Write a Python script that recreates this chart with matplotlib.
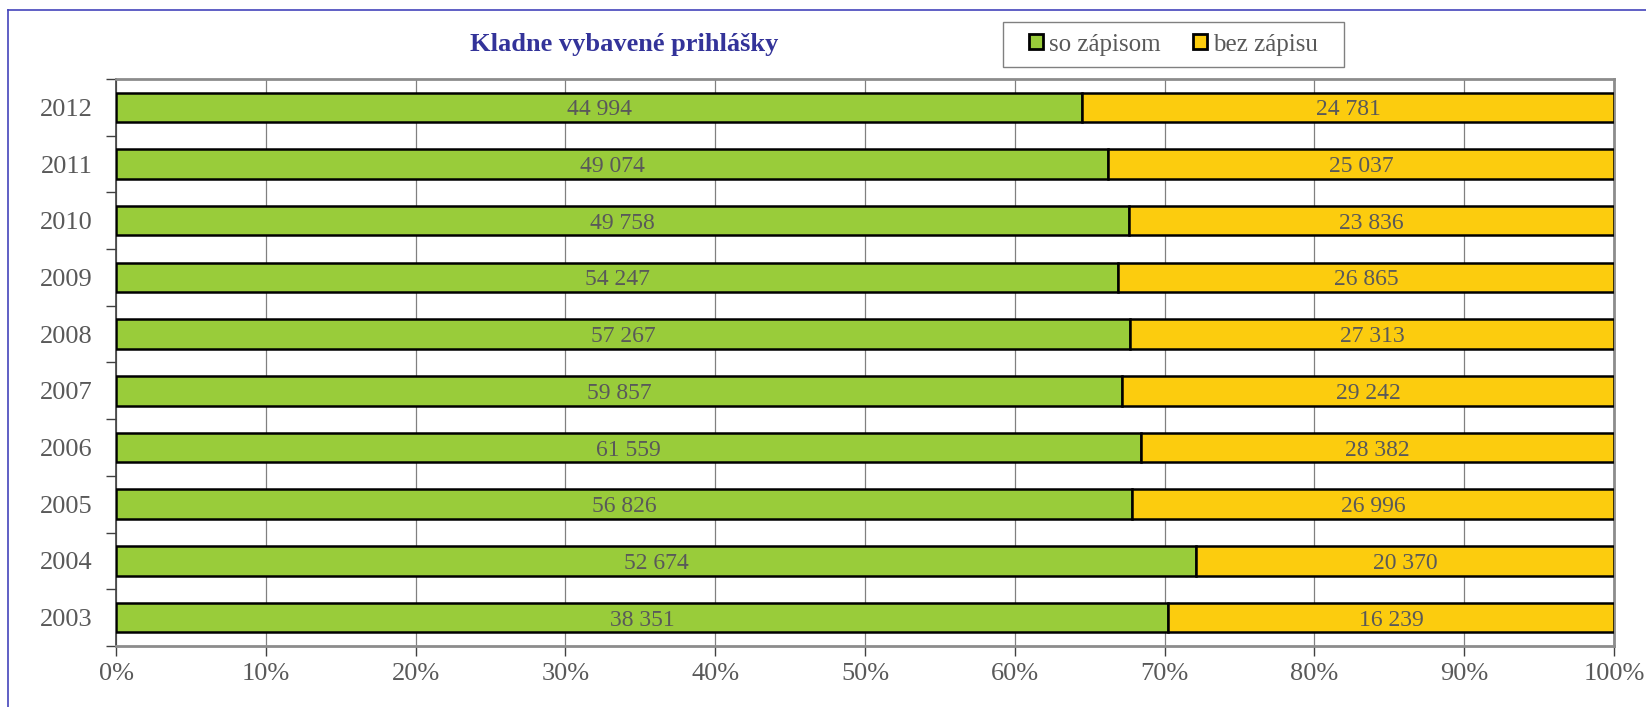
import matplotlib
matplotlib.use("Agg")
import matplotlib.pyplot as plt
from matplotlib.lines import Line2D
from matplotlib.patches import Patch, Rectangle
import numpy as np

# data (rows bottom -> top)
years = ["2003", "2004", "2005", "2006", "2007", "2008", "2009", "2010", "2011", "2012"]
so_zapisom = [38351, 52674, 56826, 61559, 59857, 57267, 54247, 49758, 49074, 44994]
bez_zapisu = [16239, 20370, 26996, 28382, 29242, 27313, 26865, 23836, 25037, 24781]
series_names = ["so zápisom", "bez zápisu"]
x_ticks = [0, 10, 20, 30, 40, 50, 60, 70, 80, 90, 100]

GREEN = "#99cc3a"
YELLOW = "#fccc0e"
TXT = "#595959"
W, H = 1646, 707

plt.rcParams["font.family"] = ["Liberation Serif", "DejaVu Serif"]


def fmt(v):
    return "{:,}".format(v).replace(",", " ")


a = np.array(so_zapisom, dtype=float)
b = np.array(bez_zapisu, dtype=float)
tot = a + b
pa = a / tot * 100
pb = b / tot * 100
y = np.arange(len(years))

fig = plt.figure(figsize=(W / 100, H / 100), dpi=100)
ax = fig.add_axes([0.0705, 0.0863, 0.9101, 0.802])

ax.barh(y, pa, height=0.52, color=GREEN, edgecolor="black", linewidth=1.8, zorder=3)
ax.barh(y, pb, left=pa, height=0.52, color=YELLOW, edgecolor="black", linewidth=1.8, zorder=3)

for i in range(len(years)):
    ax.text(pa[i] / 2, y[i], fmt(so_zapisom[i]), ha="center", va="center_baseline",
            fontsize=17, color=TXT, zorder=4)
    ax.text(pa[i] + pb[i] / 2, y[i], fmt(bez_zapisu[i]), ha="center", va="center_baseline",
            fontsize=17, color=TXT, zorder=4)

ax.set_xlim(0, 100)
ax.set_ylim(-0.5, len(years) - 0.5)
ax.set_xticks(x_ticks)
ax.set_xticklabels(["%d%%" % t for t in x_ticks])
ax.set_yticks(y)
ax.set_yticklabels(years)
ax.set_yticks(np.arange(-0.5, len(years), 1.0), minor=True)
ax.tick_params(axis="y", which="major", length=0, pad=17, labelsize=19, labelcolor=TXT)
ax.tick_params(axis="y", which="minor", length=7, width=1, color="#404040", direction="out")
ax.tick_params(axis="x", which="major", length=7, width=1, color="#404040",
               pad=5, labelsize=19, labelcolor=TXT)
ax.grid(axis="x", color="#808080", linewidth=0.9, zorder=0)

for s in ("top", "right", "bottom"):
    ax.spines[s].set_color("#8c8c8c")
    ax.spines[s].set_linewidth(2)
ax.spines["left"].set_color("#404040")
ax.spines["left"].set_linewidth(1.2)

fig.text(624 / W, 1 - 44 / H, "Kladne vybavené prihlášky", ha="center", va="center",
         fontsize=19, fontweight="bold", color="#333399")

# legend box drawn by hand, legend itself without frame
bx0, bx1, by0, by1 = 1003, 1344, 22, 67
fig.add_artist(Rectangle((bx0 / W, 1 - by1 / H), (bx1 - bx0) / W, (by1 - by0) / H,
                         transform=fig.transFigure, facecolor="white",
                         edgecolor="#808080", linewidth=1))
handles = [Patch(facecolor=GREEN, edgecolor="black", linewidth=2),
           Patch(facecolor=YELLOW, edgecolor="black", linewidth=2)]
leg = fig.legend(handles, series_names, loc="center",
                 bbox_to_anchor=((bx0 + bx1) / 2 / W, 1 - (by0 + by1) / 2 / H),
                 ncol=2, fontsize=18, frameon=False,
                 handlelength=0.55, handleheight=0.55, handletextpad=0.25,
                 columnspacing=1.3, borderpad=0.2, labelcolor=TXT)

# blue frame on top and left
fig.add_artist(Line2D([8 / W, 1], [1 - 10 / H, 1 - 10 / H],
                      color="#4444bb", linewidth=1.2, transform=fig.transFigure))
fig.add_artist(Line2D([8 / W, 8 / W], [0, 1 - 10 / H],
                      color="#4444bb", linewidth=1.2, transform=fig.transFigure))

fig.savefig("out.png", dpi=100, facecolor="white")
